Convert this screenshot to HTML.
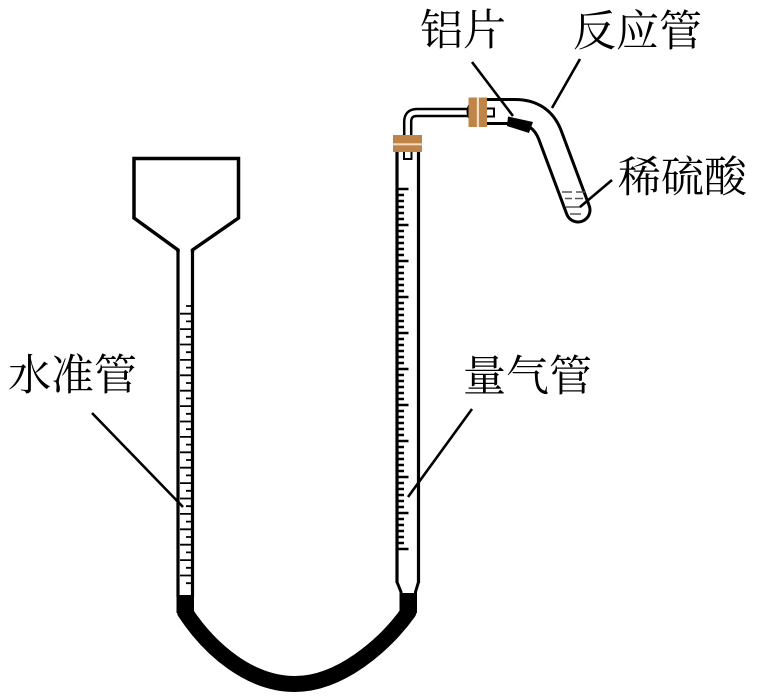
<!DOCTYPE html>
<html>
<head>
<meta charset="utf-8">
<style>
  html, body { margin: 0; padding: 0; background: #ffffff; }
  body { width: 758px; height: 697px; overflow: hidden; }
  svg { display: block; }
  text { font-family: "Liberation Serif", "Noto Serif CJK SC", serif; font-size: 43px; fill: #000; }
</style>
</head>
<body>
<svg width="758" height="697" viewBox="0 0 758 697" xmlns="http://www.w3.org/2000/svg">
  <rect x="0" y="0" width="758" height="697" fill="#ffffff"/>

  <!-- Funnel and levelling tube (水准管) -->
  <path d="M178 252 L178 250 L134 218 L134 158.5 L238.5 158.5 L238.5 218 L192.5 250 L192.5 252" fill="none" stroke="#000" stroke-width="3.5" stroke-linejoin="miter"/>
  <line x1="178" y1="250" x2="178" y2="597" stroke="#000" stroke-width="3.2"/>
  <line x1="192.5" y1="250" x2="192.5" y2="597" stroke="#000" stroke-width="3.2"/>
  <!-- ticks on levelling tube -->
  <path stroke="#000" stroke-width="1.8" fill="none" d="
    M186 306 H191 M180 313.7 H191 M186 321.4 H191 M180 329.1 H191 M186 336.8 H191 M180 344.5 H191
    M186 352.2 H191 M180 359.9 H191 M186 367.6 H191 M180 375.3 H191 M186 383 H191 M180 390.7 H191
    M186 398.4 H191 M180 406.1 H191 M186 413.8 H191 M180 421.5 H191 M186 429.2 H191 M180 436.9 H191
    M186 444.6 H191 M180 452.3 H191 M186 460 H191 M180 467.7 H191 M186 475.4 H191 M180 483.1 H191
    M186 490.8 H191 M180 498.5 H191 M186 506.2 H191 M180 513.9 H191 M186 521.6 H191 M180 529.3 H191
    M186 537 H191 M180 544.7 H191 M186 552.4 H191 M180 560.1 H191 M186 567.8 H191 M180 575.5 H191
    M186 583.2 H191"/>
  <rect x="176.5" y="595" width="17.5" height="18" fill="#000"/>

  <!-- Rubber tube -->
  <path d="M185 605 L185 612 C210 650 250 684 295 684 C340 684 385 645 408.5 612 L408.5 605" fill="none" stroke="#000" stroke-width="16" stroke-linejoin="round"/>

  <!-- Measuring tube (量气管) -->
  <line x1="397" y1="150" x2="397" y2="583" stroke="#000" stroke-width="3.2"/>
  <line x1="418.5" y1="150" x2="418.5" y2="583" stroke="#000" stroke-width="3.2"/>
  <path d="M397 582 L401 592 L401 596" fill="none" stroke="#000" stroke-width="3"/>
  <path d="M418.5 582 L415.5 592 L415.5 596" fill="none" stroke="#000" stroke-width="3"/>
  <rect x="399.5" y="593" width="17.5" height="20" fill="#000"/>
  <!-- ticks on measuring tube -->
  <path stroke="#000" stroke-width="2.4" fill="none" d="
    M398.5 189 H408.5 M398.5 195 H404 M398.5 201 H404 M398.5 207 H404 M398.5 213 H404 M398.5 219 H404
    M398.5 225 H408.5 M398.5 231 H404 M398.5 237 H404 M398.5 243 H404 M398.5 249 H404 M398.5 255 H404
    M398.5 261 H408.5 M398.5 267 H404 M398.5 273 H404 M398.5 279 H404 M398.5 285 H404 M398.5 291 H404
    M398.5 297 H408.5 M398.5 303 H404 M398.5 309 H404 M398.5 315 H404 M398.5 321 H404 M398.5 327 H404
    M398.5 333 H408.5 M398.5 339 H404 M398.5 345 H404 M398.5 351 H404 M398.5 357 H404 M398.5 363 H404
    M398.5 369 H408.5 M398.5 375 H404 M398.5 381 H404 M398.5 387 H404 M398.5 393 H404 M398.5 399 H404
    M398.5 405 H408.5 M398.5 411 H404 M398.5 417 H404 M398.5 423 H404 M398.5 429 H404 M398.5 435 H404
    M398.5 441 H408.5 M398.5 447 H404 M398.5 453 H404 M398.5 459 H404 M398.5 465 H404 M398.5 471 H404
    M398.5 477 H408.5 M398.5 483 H404 M398.5 489 H404 M398.5 495 H404 M398.5 501 H404 M398.5 507 H404
    M398.5 513 H408.5 M398.5 519 H404 M398.5 525 H404 M398.5 531 H404 M398.5 537 H404 M398.5 543 H404
    M398.5 549 H408.5"/>
  <!-- small tube end inside measuring tube -->
  <path d="M404 151 L404 159 L411.5 159 L411.5 151" fill="none" stroke="#000" stroke-width="2"/>

  <!-- Connecting narrow glass tube -->
  <path d="M407.7 152 L407.7 122 Q407.7 112.5 417 112.5 L488 112.5" fill="none" stroke="#000" stroke-width="9.5"/>
  <path d="M407.7 153 L407.7 122 Q407.7 112.5 417 112.5 L488 112.5" fill="none" stroke="#fff" stroke-width="4.5"/>

  <!-- Reaction tube (反应管) -->
  <path d="M480 111.5 L515 111.5 Q541 111.5 550 135 L578 210" fill="none" stroke="#000" stroke-width="27" stroke-linecap="round"/>
  <path d="M480 111.5 L515 111.5 Q541 111.5 550 135 L578 210" fill="none" stroke="#fff" stroke-width="21" stroke-linecap="round"/>
  <!-- inner end of narrow tube -->
  <path d="M486 108.5 L494 108.5 L494 116.5 L486 116.5" fill="none" stroke="#000" stroke-width="2"/>
  <!-- aluminium piece -->
  <polygon points="508,116.5 533,122 529,133 507,126" fill="#000"/>
  <!-- dilute acid lines -->
  <g stroke="#555" stroke-width="1.5">
    <line x1="562" y1="192" x2="572" y2="192"/>
    <line x1="576" y1="192" x2="585" y2="192"/>
    <line x1="565" y1="198.5" x2="572" y2="198.5"/>
    <line x1="575" y1="198.5" x2="583" y2="198.5"/>
    <line x1="566" y1="207" x2="581" y2="207"/>
    <line x1="570" y1="214" x2="581" y2="214"/>
  </g>

  <!-- Stoppers -->
  <rect x="393" y="135" width="29" height="17" fill="#bf8548"/>
  <rect x="393" y="143.3" width="29" height="2" fill="#f3dcc0"/>
  <rect x="468.5" y="97.5" width="18.5" height="29.5" fill="#bf8548"/>
  <rect x="476.8" y="97.5" width="2.2" height="29.5" fill="#f3dcc0"/>

  <!-- Label leader lines -->
  <g stroke="#000" stroke-width="2.6" stroke-linecap="butt">
    <line x1="92" y1="413" x2="183" y2="507"/>
    <line x1="472" y1="409" x2="408" y2="497"/>
    <line x1="472" y1="62" x2="513" y2="116"/>
    <line x1="580" y1="59" x2="552" y2="108"/>
    <line x1="612" y1="180" x2="580" y2="207"/>
  </g>

  <!-- Labels -->
  <text x="8" y="390">水准管</text>
  <text x="463" y="391">量气管</text>
  <text x="420" y="45">铝片</text>
  <text x="573" y="46">反应管</text>
  <text x="618" y="192">稀硫酸</text>
</svg>
</body>
</html>
